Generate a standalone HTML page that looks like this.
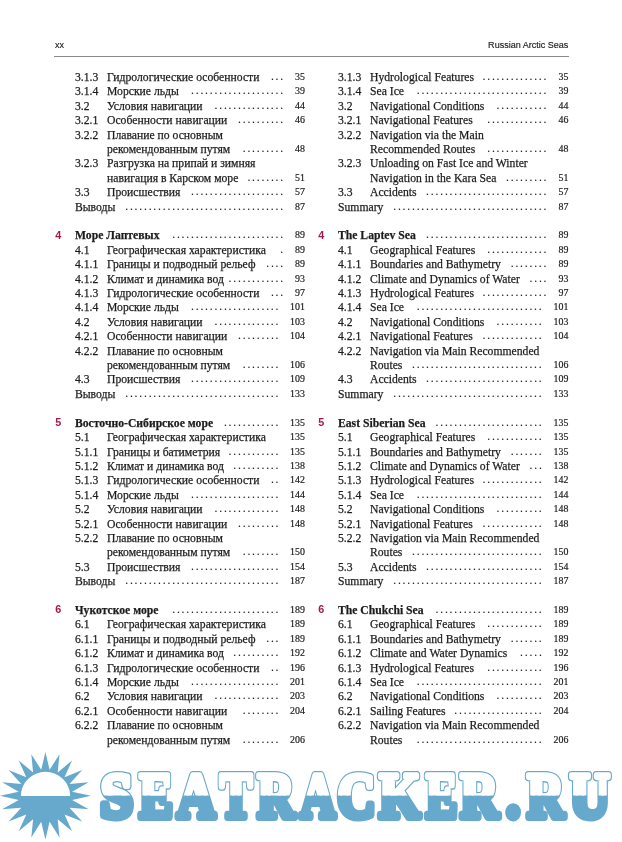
<!DOCTYPE html>
<html><head><meta charset="utf-8"><title>Russian Arctic Seas</title>
<style>
html,body{margin:0;padding:0;background:#fff;}
body{width:622px;height:842px;position:relative;overflow:hidden;font-family:"Liberation Serif",serif;color:#1c1c1c;}
.hd{position:absolute;top:37.9px;font-family:"Liberation Sans",sans-serif;font-size:9.6px;line-height:14px;color:#1a1a1a;white-space:nowrap;-webkit-text-stroke:0.15px #1a1a1a}
.rule{position:absolute;left:53.5px;width:515px;top:56px;height:1px;background:#8a8a8a}
.r{position:absolute;left:0;width:622px;height:18px;line-height:18px;font-size:11.67px;white-space:nowrap;-webkit-text-stroke:0.25px #1c1c1c}
.r span{position:absolute;top:0}
.cn{font-family:"Liberation Sans",sans-serif;font-weight:bold;font-size:10.8px;color:#a2194f;margin-top:-0.7px;-webkit-text-stroke:0}
.t,.ct{font-size:12.8px;transform:scaleX(0.9117);transform-origin:0 0}
.ct{font-weight:bold}
.p{font-size:9.9px;text-align:right;-webkit-text-stroke:0.2px #1c1c1c}
.d{-webkit-text-stroke:0.12px #1c1c1c;letter-spacing:1.783px}
.wm{position:absolute;left:0;top:740px}
</style></head><body>
<div class="hd" style="left:54.5px;transform:scaleX(0.94);transform-origin:0 0">xx</div>
<div class="hd" style="right:53.6px;transform:scaleX(0.94);transform-origin:100% 0">Russian Arctic Seas</div>
<div class="rule"></div>
<div class="r" style="top:67.86px"><span class="t" style="left:74.7px">3.1.3</span><span class="t" style="left:107.4px">Гидрологические особенности</span><span class="d" style="left:270.90px">...</span><span class="p" style="right:317.1px">35</span></div>
<div class="r" style="top:82.27px"><span class="t" style="left:74.7px">3.1.4</span><span class="t" style="left:107.4px">Морские льды</span><span class="d" style="left:191.00px">....................</span><span class="p" style="right:317.1px">39</span></div>
<div class="r" style="top:96.68px"><span class="t" style="left:74.7px">3.2</span><span class="t" style="left:107.4px">Условия навигации</span><span class="d" style="left:214.50px">...............</span><span class="p" style="right:317.1px">44</span></div>
<div class="r" style="top:111.09px"><span class="t" style="left:74.7px">3.2.1</span><span class="t" style="left:107.4px">Особенности навигации</span><span class="d" style="left:238.00px">..........</span><span class="p" style="right:317.1px">46</span></div>
<div class="r" style="top:125.50px"><span class="t" style="left:74.7px">3.2.2</span><span class="t" style="left:107.4px">Плавание по основным</span></div>
<div class="r" style="top:139.91px"><span class="t" style="left:107.4px">рекомендованным путям</span><span class="d" style="left:242.70px">.........</span><span class="p" style="right:317.1px">48</span></div>
<div class="r" style="top:154.32px"><span class="t" style="left:74.7px">3.2.3</span><span class="t" style="left:107.4px">Разгрузка на припай и зимняя</span></div>
<div class="r" style="top:168.73px"><span class="t" style="left:107.4px">навигация в Карском море</span><span class="d" style="left:247.40px">........</span><span class="p" style="right:317.1px">51</span></div>
<div class="r" style="top:183.14px"><span class="t" style="left:74.7px">3.3</span><span class="t" style="left:107.4px">Происшествия</span><span class="d" style="left:191.00px">....................</span><span class="p" style="right:317.1px">57</span></div>
<div class="r" style="top:197.55px"><span class="t" style="left:74.7px">Выводы</span><span class="d" style="left:125.20px">..................................</span><span class="p" style="right:317.1px">87</span></div>
<div class="r" style="top:226.37px"><span class="cn" style="left:55.2px">4</span><span class="ct" style="left:74.7px">Море Лаптевых</span><span class="d" style="left:172.20px">........................</span><span class="p" style="right:317.1px">89</span></div>
<div class="r" style="top:240.78px"><span class="t" style="left:74.7px">4.1</span><span class="t" style="left:107.4px">Географическая характеристика</span><span class="d" style="left:280.30px">.</span><span class="p" style="right:317.1px">89</span></div>
<div class="r" style="top:255.19px"><span class="t" style="left:74.7px">4.1.1</span><span class="t" style="left:107.4px">Границы и подводный рельеф</span><span class="d" style="left:266.20px">....</span><span class="p" style="right:317.1px">89</span></div>
<div class="r" style="top:269.60px"><span class="t" style="left:74.7px">4.1.2</span><span class="t" style="left:107.4px">Климат и динамика вод</span><span class="d" style="left:228.60px">............</span><span class="p" style="right:317.1px">93</span></div>
<div class="r" style="top:284.01px"><span class="t" style="left:74.7px">4.1.3</span><span class="t" style="left:107.4px">Гидрологические особенности</span><span class="d" style="left:270.90px">...</span><span class="p" style="right:317.1px">97</span></div>
<div class="r" style="top:298.42px"><span class="t" style="left:74.7px">4.1.4</span><span class="t" style="left:107.4px">Морские льды</span><span class="d" style="left:191.00px">...................</span><span class="p" style="right:317.1px">101</span></div>
<div class="r" style="top:312.83px"><span class="t" style="left:74.7px">4.2</span><span class="t" style="left:107.4px">Условия навигации</span><span class="d" style="left:214.50px">..............</span><span class="p" style="right:317.1px">103</span></div>
<div class="r" style="top:327.24px"><span class="t" style="left:74.7px">4.2.1</span><span class="t" style="left:107.4px">Особенности навигации</span><span class="d" style="left:238.00px">.........</span><span class="p" style="right:317.1px">104</span></div>
<div class="r" style="top:341.65px"><span class="t" style="left:74.7px">4.2.2</span><span class="t" style="left:107.4px">Плавание по основным</span></div>
<div class="r" style="top:356.06px"><span class="t" style="left:107.4px">рекомендованным путям</span><span class="d" style="left:242.70px">........</span><span class="p" style="right:317.1px">106</span></div>
<div class="r" style="top:370.47px"><span class="t" style="left:74.7px">4.3</span><span class="t" style="left:107.4px">Происшествия</span><span class="d" style="left:191.00px">...................</span><span class="p" style="right:317.1px">109</span></div>
<div class="r" style="top:384.88px"><span class="t" style="left:74.7px">Выводы</span><span class="d" style="left:125.20px">.................................</span><span class="p" style="right:317.1px">133</span></div>
<div class="r" style="top:413.70px"><span class="cn" style="left:55.2px">5</span><span class="ct" style="left:74.7px">Восточно-Сибирское море</span><span class="d" style="left:223.90px">............</span><span class="p" style="right:317.1px">135</span></div>
<div class="r" style="top:428.11px"><span class="t" style="left:74.7px">5.1</span><span class="t" style="left:107.4px">Географическая характеристика</span><span class="p" style="right:317.1px">135</span></div>
<div class="r" style="top:442.52px"><span class="t" style="left:74.7px">5.1.1</span><span class="t" style="left:107.4px">Границы и батиметрия</span><span class="d" style="left:228.60px">...........</span><span class="p" style="right:317.1px">135</span></div>
<div class="r" style="top:456.93px"><span class="t" style="left:74.7px">5.1.2</span><span class="t" style="left:107.4px">Климат и динамика вод</span><span class="d" style="left:233.30px">..........</span><span class="p" style="right:317.1px">138</span></div>
<div class="r" style="top:471.34px"><span class="t" style="left:74.7px">5.1.3</span><span class="t" style="left:107.4px">Гидрологические особенности</span><span class="d" style="left:270.90px">..</span><span class="p" style="right:317.1px">142</span></div>
<div class="r" style="top:485.75px"><span class="t" style="left:74.7px">5.1.4</span><span class="t" style="left:107.4px">Морские льды</span><span class="d" style="left:191.00px">...................</span><span class="p" style="right:317.1px">144</span></div>
<div class="r" style="top:500.16px"><span class="t" style="left:74.7px">5.2</span><span class="t" style="left:107.4px">Условия навигации</span><span class="d" style="left:214.50px">..............</span><span class="p" style="right:317.1px">148</span></div>
<div class="r" style="top:514.57px"><span class="t" style="left:74.7px">5.2.1</span><span class="t" style="left:107.4px">Особенности навигации</span><span class="d" style="left:238.00px">.........</span><span class="p" style="right:317.1px">148</span></div>
<div class="r" style="top:528.98px"><span class="t" style="left:74.7px">5.2.2</span><span class="t" style="left:107.4px">Плавание по основным</span></div>
<div class="r" style="top:543.39px"><span class="t" style="left:107.4px">рекомендованным путям</span><span class="d" style="left:242.70px">........</span><span class="p" style="right:317.1px">150</span></div>
<div class="r" style="top:557.80px"><span class="t" style="left:74.7px">5.3</span><span class="t" style="left:107.4px">Происшествия</span><span class="d" style="left:191.00px">...................</span><span class="p" style="right:317.1px">154</span></div>
<div class="r" style="top:572.21px"><span class="t" style="left:74.7px">Выводы</span><span class="d" style="left:125.20px">.................................</span><span class="p" style="right:317.1px">187</span></div>
<div class="r" style="top:601.03px"><span class="cn" style="left:55.2px">6</span><span class="ct" style="left:74.7px">Чукотское море</span><span class="d" style="left:172.20px">.......................</span><span class="p" style="right:317.1px">189</span></div>
<div class="r" style="top:615.44px"><span class="t" style="left:74.7px">6.1</span><span class="t" style="left:107.4px">Географическая характеристика</span><span class="p" style="right:317.1px">189</span></div>
<div class="r" style="top:629.85px"><span class="t" style="left:74.7px">6.1.1</span><span class="t" style="left:107.4px">Границы и подводный рельеф</span><span class="d" style="left:266.20px">...</span><span class="p" style="right:317.1px">189</span></div>
<div class="r" style="top:644.26px"><span class="t" style="left:74.7px">6.1.2</span><span class="t" style="left:107.4px">Климат и динамика вод</span><span class="d" style="left:233.30px">..........</span><span class="p" style="right:317.1px">192</span></div>
<div class="r" style="top:658.67px"><span class="t" style="left:74.7px">6.1.3</span><span class="t" style="left:107.4px">Гидрологические особенности</span><span class="d" style="left:270.90px">..</span><span class="p" style="right:317.1px">196</span></div>
<div class="r" style="top:673.08px"><span class="t" style="left:74.7px">6.1.4</span><span class="t" style="left:107.4px">Морские льды</span><span class="d" style="left:191.00px">...................</span><span class="p" style="right:317.1px">201</span></div>
<div class="r" style="top:687.49px"><span class="t" style="left:74.7px">6.2</span><span class="t" style="left:107.4px">Условия навигации</span><span class="d" style="left:214.50px">..............</span><span class="p" style="right:317.1px">203</span></div>
<div class="r" style="top:701.90px"><span class="t" style="left:74.7px">6.2.1</span><span class="t" style="left:107.4px">Особенности навигации</span><span class="d" style="left:242.70px">........</span><span class="p" style="right:317.1px">204</span></div>
<div class="r" style="top:716.31px"><span class="t" style="left:74.7px">6.2.2</span><span class="t" style="left:107.4px">Плавание по основным</span></div>
<div class="r" style="top:730.72px"><span class="t" style="left:107.4px">рекомендованным путям</span><span class="d" style="left:242.70px">........</span><span class="p" style="right:317.1px">206</span></div>
<div class="r" style="top:67.86px"><span class="t" style="left:338.1px">3.1.3</span><span class="t" style="left:370.3px">Hydrological Features</span><span class="d" style="left:482.50px">..............</span><span class="p" style="right:53.7px">35</span></div>
<div class="r" style="top:82.27px"><span class="t" style="left:338.1px">3.1.4</span><span class="t" style="left:370.3px">Sea Ice</span><span class="d" style="left:416.70px">............................</span><span class="p" style="right:53.7px">39</span></div>
<div class="r" style="top:96.68px"><span class="t" style="left:338.1px">3.2</span><span class="t" style="left:370.3px">Navigational Conditions</span><span class="d" style="left:496.60px">...........</span><span class="p" style="right:53.7px">44</span></div>
<div class="r" style="top:111.09px"><span class="t" style="left:338.1px">3.2.1</span><span class="t" style="left:370.3px">Navigational Features</span><span class="d" style="left:487.20px">.............</span><span class="p" style="right:53.7px">46</span></div>
<div class="r" style="top:125.50px"><span class="t" style="left:338.1px">3.2.2</span><span class="t" style="left:370.3px">Navigation via the Main</span></div>
<div class="r" style="top:139.91px"><span class="t" style="left:370.3px">Recommended Routes</span><span class="d" style="left:487.20px">.............</span><span class="p" style="right:53.7px">48</span></div>
<div class="r" style="top:154.32px"><span class="t" style="left:338.1px">3.2.3</span><span class="t" style="left:370.3px">Unloading on Fast Ice and Winter</span></div>
<div class="r" style="top:168.73px"><span class="t" style="left:370.3px">Navigation in the Kara Sea</span><span class="d" style="left:506.00px">.........</span><span class="p" style="right:53.7px">51</span></div>
<div class="r" style="top:183.14px"><span class="t" style="left:338.1px">3.3</span><span class="t" style="left:370.3px">Accidents</span><span class="d" style="left:426.10px">..........................</span><span class="p" style="right:53.7px">57</span></div>
<div class="r" style="top:197.55px"><span class="t" style="left:338.1px">Summary</span><span class="d" style="left:393.20px">.................................</span><span class="p" style="right:53.7px">87</span></div>
<div class="r" style="top:226.37px"><span class="cn" style="left:318.2px">4</span><span class="ct" style="left:338.1px">The Laptev Sea</span><span class="d" style="left:426.10px">..........................</span><span class="p" style="right:53.7px">89</span></div>
<div class="r" style="top:240.78px"><span class="t" style="left:338.1px">4.1</span><span class="t" style="left:370.3px">Geographical Features</span><span class="d" style="left:487.20px">.............</span><span class="p" style="right:53.7px">89</span></div>
<div class="r" style="top:255.19px"><span class="t" style="left:338.1px">4.1.1</span><span class="t" style="left:370.3px">Boundaries and Bathymetry</span><span class="d" style="left:510.70px">........</span><span class="p" style="right:53.7px">89</span></div>
<div class="r" style="top:269.60px"><span class="t" style="left:338.1px">4.1.2</span><span class="t" style="left:370.3px">Climate and Dynamics of Water</span><span class="d" style="left:529.50px">....</span><span class="p" style="right:53.7px">93</span></div>
<div class="r" style="top:284.01px"><span class="t" style="left:338.1px">4.1.3</span><span class="t" style="left:370.3px">Hydrological Features</span><span class="d" style="left:482.50px">..............</span><span class="p" style="right:53.7px">97</span></div>
<div class="r" style="top:298.42px"><span class="t" style="left:338.1px">4.1.4</span><span class="t" style="left:370.3px">Sea Ice</span><span class="d" style="left:416.70px">...........................</span><span class="p" style="right:53.7px">101</span></div>
<div class="r" style="top:312.83px"><span class="t" style="left:338.1px">4.2</span><span class="t" style="left:370.3px">Navigational Conditions</span><span class="d" style="left:496.60px">..........</span><span class="p" style="right:53.7px">103</span></div>
<div class="r" style="top:327.24px"><span class="t" style="left:338.1px">4.2.1</span><span class="t" style="left:370.3px">Navigational Features</span><span class="d" style="left:482.50px">.............</span><span class="p" style="right:53.7px">104</span></div>
<div class="r" style="top:341.65px"><span class="t" style="left:338.1px">4.2.2</span><span class="t" style="left:370.3px">Navigation via Main Recommended</span></div>
<div class="r" style="top:356.06px"><span class="t" style="left:370.3px">Routes</span><span class="d" style="left:412.00px">............................</span><span class="p" style="right:53.7px">106</span></div>
<div class="r" style="top:370.47px"><span class="t" style="left:338.1px">4.3</span><span class="t" style="left:370.3px">Accidents</span><span class="d" style="left:426.10px">.........................</span><span class="p" style="right:53.7px">109</span></div>
<div class="r" style="top:384.88px"><span class="t" style="left:338.1px">Summary</span><span class="d" style="left:393.20px">................................</span><span class="p" style="right:53.7px">133</span></div>
<div class="r" style="top:413.70px"><span class="cn" style="left:318.2px">5</span><span class="ct" style="left:338.1px">East Siberian Sea</span><span class="d" style="left:435.50px">.......................</span><span class="p" style="right:53.7px">135</span></div>
<div class="r" style="top:428.11px"><span class="t" style="left:338.1px">5.1</span><span class="t" style="left:370.3px">Geographical Features</span><span class="d" style="left:487.20px">............</span><span class="p" style="right:53.7px">135</span></div>
<div class="r" style="top:442.52px"><span class="t" style="left:338.1px">5.1.1</span><span class="t" style="left:370.3px">Boundaries and Bathymetry</span><span class="d" style="left:510.70px">.......</span><span class="p" style="right:53.7px">135</span></div>
<div class="r" style="top:456.93px"><span class="t" style="left:338.1px">5.1.2</span><span class="t" style="left:370.3px">Climate and Dynamics of Water</span><span class="d" style="left:529.50px">...</span><span class="p" style="right:53.7px">138</span></div>
<div class="r" style="top:471.34px"><span class="t" style="left:338.1px">5.1.3</span><span class="t" style="left:370.3px">Hydrological Features</span><span class="d" style="left:482.50px">.............</span><span class="p" style="right:53.7px">142</span></div>
<div class="r" style="top:485.75px"><span class="t" style="left:338.1px">5.1.4</span><span class="t" style="left:370.3px">Sea Ice</span><span class="d" style="left:416.70px">...........................</span><span class="p" style="right:53.7px">144</span></div>
<div class="r" style="top:500.16px"><span class="t" style="left:338.1px">5.2</span><span class="t" style="left:370.3px">Navigational Conditions</span><span class="d" style="left:496.60px">..........</span><span class="p" style="right:53.7px">148</span></div>
<div class="r" style="top:514.57px"><span class="t" style="left:338.1px">5.2.1</span><span class="t" style="left:370.3px">Navigational Features</span><span class="d" style="left:482.50px">.............</span><span class="p" style="right:53.7px">148</span></div>
<div class="r" style="top:528.98px"><span class="t" style="left:338.1px">5.2.2</span><span class="t" style="left:370.3px">Navigation via Main Recommended</span></div>
<div class="r" style="top:543.39px"><span class="t" style="left:370.3px">Routes</span><span class="d" style="left:412.00px">............................</span><span class="p" style="right:53.7px">150</span></div>
<div class="r" style="top:557.80px"><span class="t" style="left:338.1px">5.3</span><span class="t" style="left:370.3px">Accidents</span><span class="d" style="left:426.10px">.........................</span><span class="p" style="right:53.7px">154</span></div>
<div class="r" style="top:572.21px"><span class="t" style="left:338.1px">Summary</span><span class="d" style="left:393.20px">................................</span><span class="p" style="right:53.7px">187</span></div>
<div class="r" style="top:601.03px"><span class="cn" style="left:318.2px">6</span><span class="ct" style="left:338.1px">The Chukchi Sea</span><span class="d" style="left:435.50px">.......................</span><span class="p" style="right:53.7px">189</span></div>
<div class="r" style="top:615.44px"><span class="t" style="left:338.1px">6.1</span><span class="t" style="left:370.3px">Geographical Features</span><span class="d" style="left:487.20px">............</span><span class="p" style="right:53.7px">189</span></div>
<div class="r" style="top:629.85px"><span class="t" style="left:338.1px">6.1.1</span><span class="t" style="left:370.3px">Boundaries and Bathymetry</span><span class="d" style="left:510.70px">.......</span><span class="p" style="right:53.7px">189</span></div>
<div class="r" style="top:644.26px"><span class="t" style="left:338.1px">6.1.2</span><span class="t" style="left:370.3px">Climate and Water Dynamics</span><span class="d" style="left:520.10px">.....</span><span class="p" style="right:53.7px">192</span></div>
<div class="r" style="top:658.67px"><span class="t" style="left:338.1px">6.1.3</span><span class="t" style="left:370.3px">Hydrological Features</span><span class="d" style="left:487.20px">............</span><span class="p" style="right:53.7px">196</span></div>
<div class="r" style="top:673.08px"><span class="t" style="left:338.1px">6.1.4</span><span class="t" style="left:370.3px">Sea Ice</span><span class="d" style="left:416.70px">...........................</span><span class="p" style="right:53.7px">201</span></div>
<div class="r" style="top:687.49px"><span class="t" style="left:338.1px">6.2</span><span class="t" style="left:370.3px">Navigational Conditions</span><span class="d" style="left:496.60px">..........</span><span class="p" style="right:53.7px">203</span></div>
<div class="r" style="top:701.90px"><span class="t" style="left:338.1px">6.2.1</span><span class="t" style="left:370.3px">Sailing Features</span><span class="d" style="left:454.30px">...................</span><span class="p" style="right:53.7px">204</span></div>
<div class="r" style="top:716.31px"><span class="t" style="left:338.1px">6.2.2</span><span class="t" style="left:370.3px">Navigation via Main Recommended</span></div>
<div class="r" style="top:730.72px"><span class="t" style="left:370.3px">Routes</span><span class="d" style="left:416.70px">...........................</span><span class="p" style="right:53.7px">206</span></div>

<svg class="wm" width="622" height="102" viewBox="0 740 622 102">
<defs><clipPath id="up"><rect x="0" y="740" width="622" height="55.6"/></clipPath></defs>
<polygon points="45.4,752.1 41.2,769.8 31.3,754.2 33.1,772.4 18.7,760.4 26.3,777.2 8.6,770.1 21.3,783.9 2.1,782.3 18.7,791.7 -0.1,795.8 18.7,799.9 2.1,809.3 21.3,807.7 8.6,821.5 26.3,814.4 18.7,831.2 33.1,819.2 31.3,837.4 41.2,821.8 45.4,839.5 49.6,821.8 59.5,837.4 57.7,819.2 72.1,831.2 64.5,814.4 82.2,821.5 69.5,807.7 88.7,809.3 72.1,799.9 90.9,795.8 72.1,791.7 88.7,782.3 69.5,783.9 82.2,770.1 64.5,777.2 72.1,760.4 57.7,772.4 59.5,754.2 49.6,769.8" fill="#66a9cc"/>
<path d="M20.8 796 A24.7 24.2 0 0 1 70.2 796 Z" fill="#fff"/>
<text font-family="'Liberation Serif',serif" font-weight="bold" font-size="63" y="816.6" stroke-linejoin="round" fill="#66a9cc" stroke="#66a9cc" stroke-width="8"><tspan x="100.4" textLength="32.3" lengthAdjust="spacingAndGlyphs">S</tspan><tspan x="139.5" textLength="33.1" lengthAdjust="spacingAndGlyphs">E</tspan><tspan x="177.3" textLength="37.8" lengthAdjust="spacingAndGlyphs">A</tspan><tspan x="219.9" textLength="32.1" lengthAdjust="spacingAndGlyphs">T</tspan><tspan x="257.4" textLength="37.0" lengthAdjust="spacingAndGlyphs">R</tspan><tspan x="300.6" textLength="34.8" lengthAdjust="spacingAndGlyphs">A</tspan><tspan x="337.5" textLength="37.8" lengthAdjust="spacingAndGlyphs">C</tspan><tspan x="379.2" textLength="40.9" lengthAdjust="spacingAndGlyphs">K</tspan><tspan x="425.9" textLength="31.1" lengthAdjust="spacingAndGlyphs">E</tspan><tspan x="460.6" textLength="37.9" lengthAdjust="spacingAndGlyphs">R</tspan><tspan x="506.2" textLength="13.7" lengthAdjust="spacingAndGlyphs">.</tspan><tspan x="527.2" textLength="36.9" lengthAdjust="spacingAndGlyphs">R</tspan><tspan x="570.1" textLength="39.8" lengthAdjust="spacingAndGlyphs">U</tspan></text>
<text font-family="'Liberation Serif',serif" font-weight="bold" font-size="63" y="816.6" stroke-linejoin="round" fill="#fff" stroke="#fff" stroke-width="5.4" clip-path="url(#up)" aria-hidden="true"><tspan x="100.4" textLength="32.3" lengthAdjust="spacingAndGlyphs">S</tspan><tspan x="139.5" textLength="33.1" lengthAdjust="spacingAndGlyphs">E</tspan><tspan x="177.3" textLength="37.8" lengthAdjust="spacingAndGlyphs">A</tspan><tspan x="219.9" textLength="32.1" lengthAdjust="spacingAndGlyphs">T</tspan><tspan x="257.4" textLength="37.0" lengthAdjust="spacingAndGlyphs">R</tspan><tspan x="300.6" textLength="34.8" lengthAdjust="spacingAndGlyphs">A</tspan><tspan x="337.5" textLength="37.8" lengthAdjust="spacingAndGlyphs">C</tspan><tspan x="379.2" textLength="40.9" lengthAdjust="spacingAndGlyphs">K</tspan><tspan x="425.9" textLength="31.1" lengthAdjust="spacingAndGlyphs">E</tspan><tspan x="460.6" textLength="37.9" lengthAdjust="spacingAndGlyphs">R</tspan><tspan x="506.2" textLength="13.7" lengthAdjust="spacingAndGlyphs">.</tspan><tspan x="527.2" textLength="36.9" lengthAdjust="spacingAndGlyphs">R</tspan><tspan x="570.1" textLength="39.8" lengthAdjust="spacingAndGlyphs">U</tspan></text>
</svg>
</body></html>
